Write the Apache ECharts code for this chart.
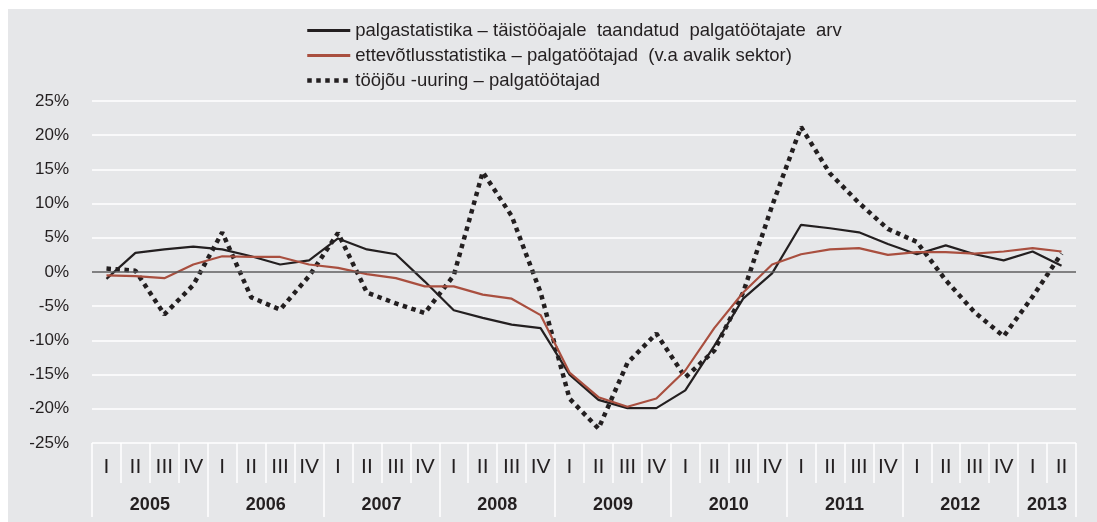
<!DOCTYPE html>
<html>
<head>
<meta charset="utf-8">
<script src="https://cdn.jsdelivr.net/npm/echarts@6/dist/echarts.min.js"></script>
<style>
  html, body { margin: 0; padding: 0; background: #ffffff; }
  #bg { position: absolute; left: 8px; top: 9px; width: 1089px; height: 513px; background: #e6e7e9; }
  #chart { position: absolute; left: 0; top: 0; width: 1097px; height: 522px; }
</style>
</head>
<body>
<div id="bg"></div>
<div id="chart"></div>
<script>
// kvartalid ja aastad
const years = ["2005", "2006", "2007", "2008", "2009", "2010", "2011", "2012", "2013"];
const quarters = ["I", "II", "III", "IV"];
const quartersIn2013 = 2;

// aastane muutus, %
const palgastatistika = [-1.0, 2.8, 3.3, 3.7, 3.3, 2.3, 1.1, 1.7, 4.9, 3.3, 2.6, -1.4, -5.6, -6.7, -7.7, -8.2,
  -15.0, -18.7, -19.9, -19.9, -17.3, -10.8, -3.9, -0.2, 6.9, 6.4, 5.8, 4.1, 2.6, 3.9, 2.6, 1.7, 3.0, 0.9];
const ettevotlusstatistika = [-0.5, -0.6, -0.9, 1.1, 2.3, 2.2, 2.2, 1.1, 0.6, -0.3, -0.9, -2.1, -2.1, -3.3, -3.9, -6.3,
  -14.7, -18.3, -19.7, -18.5, -14.4, -8.2, -3.0, 1.1, 2.6, 3.3, 3.5, 2.5, 2.9, 2.9, 2.7, 3.0, 3.5, 3.0];
const toojouUuring = [0.5, 0.2, -6.2, -1.9, 5.8, -3.7, -5.5, -0.6, 5.7, -3.0, -4.6, -6.0, -0.5, 14.6, 8.2, -3.0,
  -18.5, -22.9, -13.3, -9.0, -15.4, -11.5, -3.0, 9.7, 21.2, 14.4, 10.1, 6.3, 4.4, -1.2, -5.9, -9.4, -3.6, 2.7];

const seriesNames = [
  "palgastatistika – täistööajale  taandatud  palgatöötajate  arv",
  "ettevõtlusstatistika – palgatöötajad  (v.a avalik sektor)",
  "tööjõu -uuring – palgatöötajad"
];

// kategooriad "aasta kvartal", aasta alguse indeksid ja aasta sildi kohad
const categories = [];
const yearStarts = {};
const yearLabelAt = {};
years.forEach((y) => {
  const n = y === "2013" ? quartersIn2013 : quarters.length;
  const start = categories.length;
  yearStarts[start] = true;
  yearLabelAt[start + n / 2 - 1] = y;
  quarters.slice(0, n).forEach((q) => categories.push(y + " " + q));
});

const chart = echarts.init(document.getElementById("chart"));
const narrow = "'Liberation Sans Narrow', 'Arial Narrow', sans-serif";
const plain = "'Liberation Sans', Arial, sans-serif";
const band = 984 / categories.length;

chart.setOption({
  animation: false,
  legend: {
    orient: "vertical",
    left: 305,
    top: 21,
    padding: 0,
    itemWidth: 43,
    itemHeight: 12,
    itemGap: 6,
    itemStyle: { opacity: 0 },
    textStyle: { fontSize: 18.5, color: "#231f20", fontFamily: narrow },
    data: [
      { name: seriesNames[0], lineStyle: { width: 3 } },
      { name: seriesNames[1], lineStyle: { width: 3 } },
      { name: seriesNames[2], lineStyle: { width: 4.5 } }
    ]
  },
  grid: { left: 92, right: 21, top: 101, bottom: 79 },
  xAxis: [
    {
      type: "category",
      data: categories,
      boundaryGap: true,
      axisLine: { show: false, onZero: false },
      axisTick: { show: true, interval: 0, length: 40, lineStyle: { color: "#ffffff", width: 1.5 } },
      axisLabel: {
        interval: 0,
        margin: 14,
        fontSize: 21,
        color: "#231f20",
        fontFamily: narrow,
        formatter: (v) => v.split(" ")[1]
      }
    },
    {
      type: "category",
      data: categories,
      boundaryGap: true,
      position: "bottom",
      axisLine: { show: false, onZero: false },
      axisTick: {
        show: true,
        interval: (i) => !!yearStarts[i],
        length: 74,
        lineStyle: { color: "#ffffff", width: 1.5 }
      },
      axisLabel: {
        interval: 0,
        margin: 53,
        fontSize: 18,
        fontWeight: "bold",
        color: "#231f20",
        fontFamily: plain,
        padding: [0, 0, 0, band],
        formatter: (v, i) => yearLabelAt[i] || ""
      }
    }
  ],
  yAxis: {
    type: "value",
    min: -25,
    max: 25,
    interval: 5,
    axisLine: { show: false },
    axisTick: { show: false },
    axisLabel: {
      margin: 23,
      fontSize: 17,
      color: "#231f20",
      fontFamily: plain,
      formatter: "{value}%"
    },
    splitLine: { lineStyle: { color: "#ffffff", width: 1.5 } }
  },
  series: [
    {
      name: seriesNames[2],
      type: "line",
      data: toojouUuring,
      symbol: "none",
      lineStyle: { color: "#231f20", width: 4.5, type: [4.5, 4.5], cap: "butt" },
      itemStyle: { color: "#231f20" },
      z: 2
    },
    {
      name: seriesNames[0],
      type: "line",
      data: palgastatistika,
      symbol: "none",
      lineStyle: { color: "#231f20", width: 2.2 },
      itemStyle: { color: "#231f20" },
      markLine: {
        silent: true,
        symbol: "none",
        label: { show: false },
        lineStyle: { color: "#58585a", width: 1.5, type: "solid" },
        data: [{ yAxis: 0 }]
      },
      z: 3
    },
    {
      name: seriesNames[1],
      type: "line",
      data: ettevotlusstatistika,
      symbol: "none",
      lineStyle: { color: "#a94f3f", width: 2.2 },
      itemStyle: { color: "#a94f3f" },
      z: 3
    }
  ]
});
</script>
</body>
</html>
